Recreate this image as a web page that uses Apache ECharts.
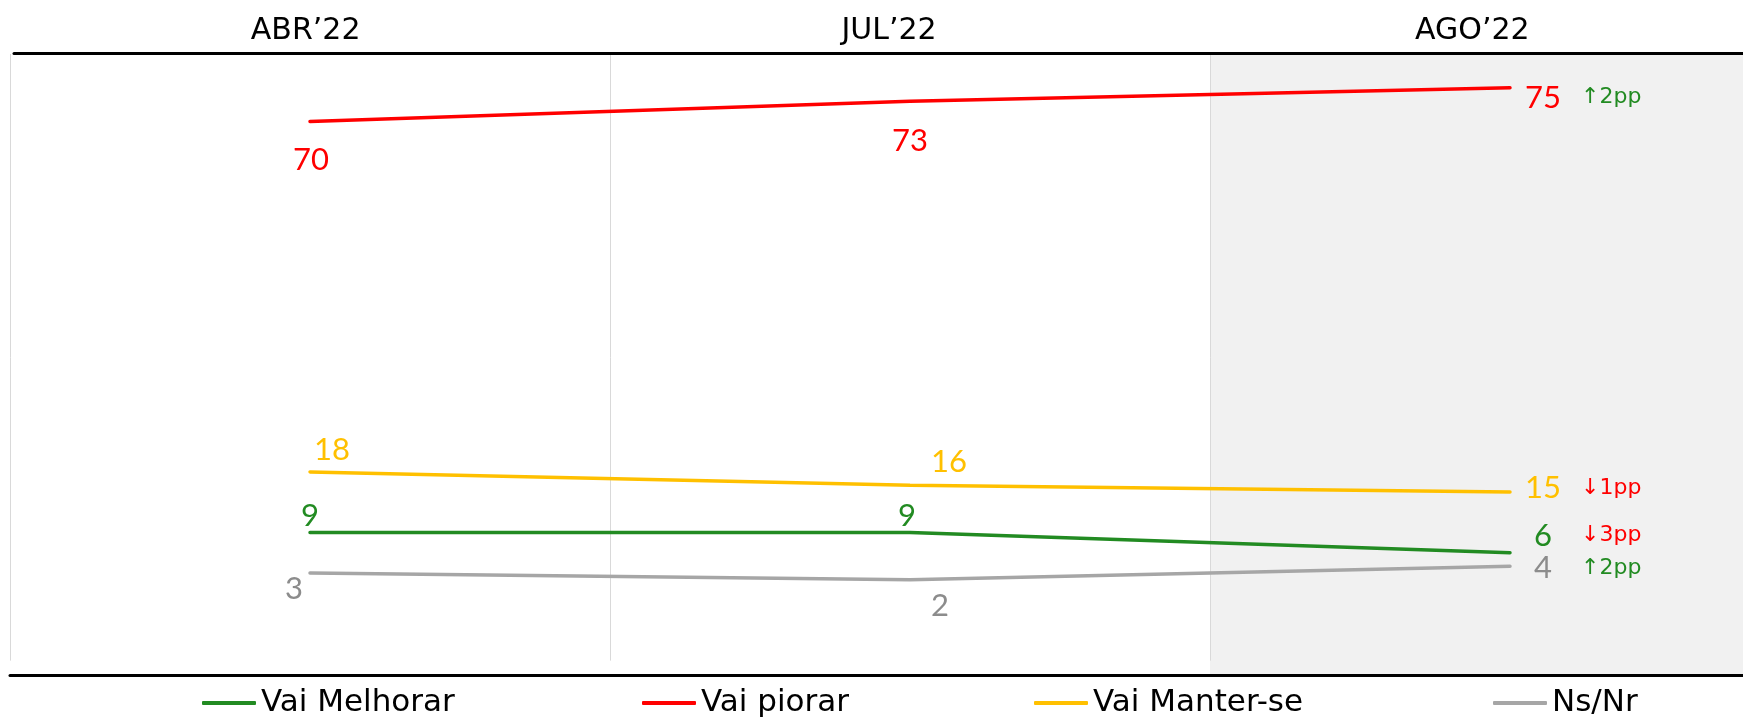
<!DOCTYPE html>
<html>
<head>
<meta charset="utf-8">
<title>Expectativa</title>
<script src="https://cdn.jsdelivr.net/npm/echarts@6/dist/echarts.min.js"></script>
<style>
  html, body { margin: 0; padding: 0; background: #fff; }
  #main { width: 1743px; height: 719px; }
</style>
</head>
<body>
<div id="main"></div>
<script>
// dados
var categories = ['ABR’22', 'JUL’22', 'AGO’22'];
var seriesNames = ['Vai Melhorar', 'Vai piorar', 'Vai Manter-se', 'Ns/Nr'];
var melhorar = [9, 9, 6];
var piorar = [70, 73, 75];
var manter = [18, 16, 15];
var nsnr = [3, 2, 4];
var deltas = ['↓3pp', '↑2pp', '↓1pp', '↑2pp'];

var values = [melhorar, piorar, manter, nsnr];
var colors = ['#228b22', '#ff0000', '#ffc000', '#a6a6a6'];
var labelColors = ['#228b22', '#ff0000', '#ffc000', '#8c8c8c'];
// deslocamento dos rótulos (ABR, JUL) e ajuste vertical do último
var labelOffsets = [
  [[0, -17], [-3, -17]],
  [[1, 39], [0, 40]],
  [[22, -22], [39, -23]],
  [[-16, 16], [30, 26]]
];
var lastDy = [-17, 10, -4, 2];
var legendLeft = [202, 642, 1034, 1493];

var valueFont = 'Lato';
var textFont = 'DejaVu Sans';

var myChart = echarts.init(document.getElementById('main'));

function buildSeries(i) {
  var data = values[i].map(function (v, j) {
    if (j < values[i].length - 1) {
      return {
        value: v,
        label: { position: 'inside', offset: labelOffsets[i][j] }
      };
    }
    var up = deltas[i].charAt(0) === '↑';
    return {
      value: v,
      label: {
        position: 'right',
        distance: 14,
        offset: [0, lastDy[i]],
        formatter: '{v|' + v + '}{d|' + deltas[i] + '}',
        rich: {
          v: { width: 36, align: 'center', verticalAlign: 'middle', fontFamily: valueFont, fontSize: 31, color: labelColors[i] },
          d: { padding: [0, 0, 0, 20], verticalAlign: 'middle', fontFamily: 'DejaVu Sans', fontSize: 22, color: up ? '#228b22' : '#ff0000' }
        }
      }
    };
  });
  return {
    name: seriesNames[i],
    type: 'line',
    xAxisIndex: 1,
    yAxisIndex: 1,
    data: data,
    symbol: 'circle',
    symbolSize: 2,
    showSymbol: true,
    color: colors[i],
    lineStyle: { width: 3.5, color: colors[i], cap: 'round' },
    itemStyle: { color: colors[i] },
    label: {
      show: true,
      fontFamily: valueFont,
      fontSize: 31,
      color: labelColors[i]
    },
    emphasis: { disabled: true },
    z: 3
  };
}

var option = {
  animation: false,
  backgroundColor: '#ffffff',
  grid: [
    { left: 10, width: 1800, top: 55, height: 620, outerBoundsMode: 'none' },     // sombreado + linha inferior
    { left: 10, width: 1800, top: 54, height: 606.6, outerBoundsMode: 'none' },   // dados
    { left: 14, width: 1750, top: 53, height: 10, outerBoundsMode: 'none' }        // cabeçalho
  ],
  xAxis: [
    {
      gridIndex: 0, type: 'category', data: categories, boundaryGap: true, position: 'bottom',
      axisLine: { show: true, onZero: false, lineStyle: { color: '#000', width: 3 } },
      axisTick: { show: false }, axisLabel: { show: false },
      splitLine: { show: false },
      splitArea: { show: true, interval: 0, areaStyle: { color: ['rgba(0,0,0,0)', 'rgba(0,0,0,0)', '#f1f1f1'] } }
    },
    {
      gridIndex: 1, type: 'category', data: categories, boundaryGap: true,
      axisLine: { show: false }, axisTick: { show: false }, axisLabel: { show: false },
      splitLine: { show: true, interval: 0, lineStyle: { color: '#d9d9d9', width: 1 } }
    },
    {
      gridIndex: 2, type: 'category', data: categories, boundaryGap: true, position: 'top',
      axisLine: { show: true, onZero: false, lineStyle: { color: '#000', width: 3 } },
      axisTick: { show: false },
      axisLabel: { show: true, interval: 0, margin: 7, fontFamily: textFont, fontSize: 30, color: '#000' },
      splitLine: { show: false }
    }
  ],
  yAxis: [
    { gridIndex: 0, type: 'value', min: 0, max: 1, show: false },
    { gridIndex: 1, type: 'value', min: -10, max: 80, show: false },
    { gridIndex: 2, type: 'value', min: 0, max: 1, show: false }
  ],
  legend: seriesNames.map(function (n, i) {
    return {
      data: [n],
      left: legendLeft[i],
      top: 686,
      padding: 0,
      icon: 'roundRect',
      itemWidth: 54,
      itemHeight: 4,
      selectedMode: false,
      textStyle: { fontFamily: textFont, fontSize: 31, color: '#000', lineHeight: 34 }
    };
  }),
  series: [0, 1, 2, 3].map(buildSeries)
};

myChart.setOption(option);
</script>
</body>
</html>
